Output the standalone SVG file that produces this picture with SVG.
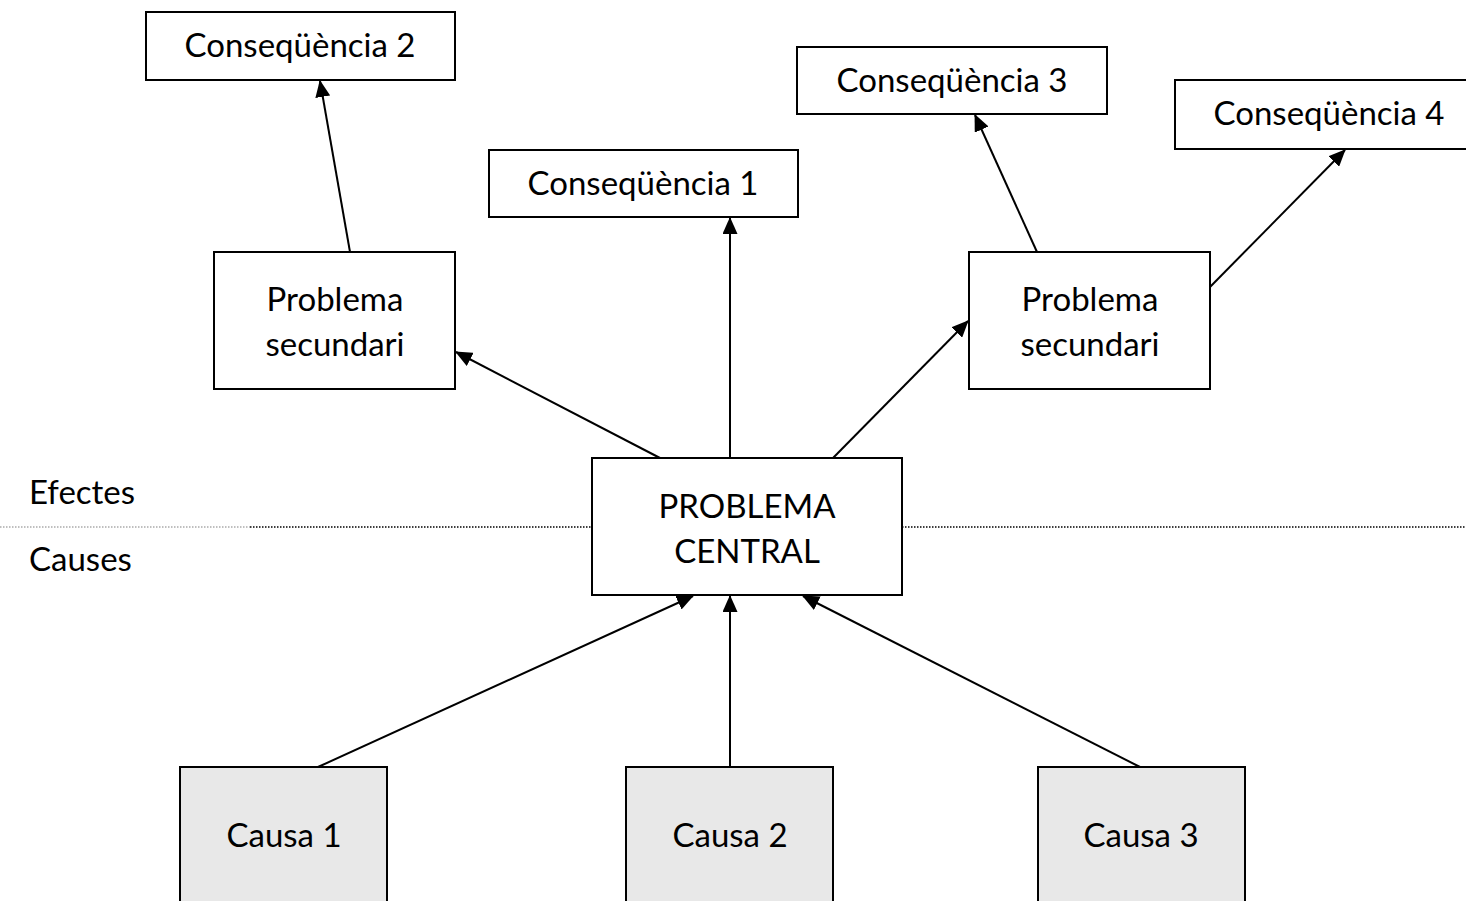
<svg xmlns="http://www.w3.org/2000/svg" width="1466" height="901" viewBox="0 0 1466 901">
<style>
.box{fill:#fff;stroke:#000;stroke-width:2}
.cause{fill:#e8e8e8;stroke:#000;stroke-width:2}
text{font-family:Lato,"Open Sans",sans-serif;font-size:33px;fill:#000;text-anchor:middle}
.lbl{text-anchor:start}
.conn line{stroke:#000;stroke-width:2;marker-end:url(#arr)}
</style>
<defs>
<marker id="arr" markerUnits="userSpaceOnUse" markerWidth="17" markerHeight="15" refX="16" refY="7.5" orient="auto">
<path d="M0,0 L17,7.5 L0,15 Z" fill="#000"/>
</marker>
</defs>
<rect width="1466" height="901" fill="#fff"/>
<g id="divider">
<line x1="0" y1="527" x2="250" y2="527" stroke="#aaa" stroke-width="1.5" stroke-dasharray="1.5,1.5"/>
<line x1="250" y1="527" x2="592" y2="527" stroke="#000" stroke-width="1.5" stroke-dasharray="1.5,1.5"/>
<line x1="902" y1="527" x2="1466" y2="527" stroke="#000" stroke-width="1.5" stroke-dasharray="1.5,1.5"/>
<text class="lbl" x="29" y="504">Efectes</text>
<text class="lbl" x="29" y="571">Causes</text>
</g>
<g class="conn" id="connectors">
<line x1="350" y1="252" x2="320" y2="81"/>
<line x1="660" y1="458" x2="456" y2="352"/>
<line x1="730" y1="458" x2="730" y2="218"/>
<line x1="833" y1="458" x2="968" y2="321"/>
<line x1="1037" y1="252" x2="975" y2="115"/>
<line x1="1210" y1="287" x2="1345" y2="150"/>
<line x1="318" y1="767" x2="693" y2="596"/>
<line x1="730" y1="767" x2="730" y2="596"/>
<line x1="1140" y1="767" x2="803" y2="596"/>
</g>
<g id="cons2"><rect class="box" x="146" y="12" width="309" height="68"/><text x="300" y="57">Conseqüència 2</text></g>
<g id="cons1"><rect class="box" x="489" y="150" width="309" height="67"/><text x="643" y="195">Conseqüència 1</text></g>
<g id="cons3"><rect class="box" x="797" y="47" width="310" height="67"/><text x="952" y="92">Conseqüència 3</text></g>
<g id="cons4"><rect class="box" x="1175" y="80" width="300" height="69"/><text x="1329" y="125">Conseqüència 4</text></g>
<g id="sec1"><rect class="box" x="214" y="252" width="241" height="137"/><text x="335" y="311">Problema</text><text x="335" y="356">secundari</text></g>
<g id="sec2"><rect class="box" x="969" y="252" width="241" height="137"/><text x="1090" y="311">Problema</text><text x="1090" y="356">secundari</text></g>
<g id="central"><rect class="box" x="592" y="458" width="310" height="137"/><text x="747" y="518">PROBLEMA</text><text x="747" y="563">CENTRAL</text></g>
<g id="causa1"><rect class="cause" x="180" y="767" width="207" height="150"/><text x="284" y="847">Causa 1</text></g>
<g id="causa2"><rect class="cause" x="626" y="767" width="207" height="150"/><text x="730" y="847">Causa 2</text></g>
<g id="causa3"><rect class="cause" x="1038" y="767" width="207" height="150"/><text x="1141" y="847">Causa 3</text></g>
</svg>
